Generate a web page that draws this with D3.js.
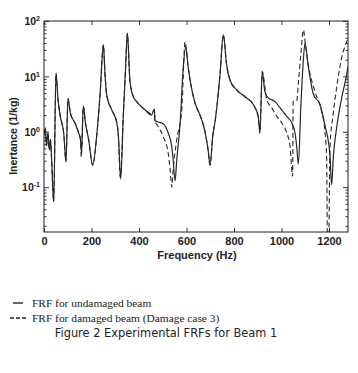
<!DOCTYPE html>
<html>
<head>
<meta charset="utf-8">
<script src="https://cdn.jsdelivr.net/npm/d3@7"></script>
<style>
  html, body { margin: 0; padding: 0; background: #fff; }
  svg { display: block; }
  .axis text { font-family: 'Liberation Sans', Arial, sans-serif; font-weight: bold; fill: #222; }
  .axis line { stroke: #333; }
</style>
</head>
<body>
<svg id="chart" width="358" height="373"></svg>
<script>
// frequencies (Hz) and inertance (1/kg)
var solidFreq = [0, 5.5, 10.5, 16.8, 22.3, 27.4, 31.6, 40.8, 50.5, 59, 68.6, 83, 92.6, 101, 110.7, 131.8, 146, 153.7, 158,
    165.5, 174, 188, 205, 223, 236, 250, 257, 264, 285, 306, 313, 323, 334, 343, 351, 362, 376, 390, 425, 453, 465, 467,
    481, 502, 523, 538, 544, 552, 559, 573, 587, 597, 606, 615, 636, 657, 678, 691, 699, 711, 720, 741, 755, 769, 783,
    811, 846, 881, 902, 909, 919, 930, 944, 973, 994, 1022, 1043, 1057, 1064, 1071, 1082, 1092, 1099, 1113, 1134, 1162,
    1183, 1204, 1211, 1219, 1232, 1253, 1274, 1280];
var solidVal = [0.88, 1.18, 0.56, 0.96, 0.47, 0.72, 0.35, 0.055, 11.4, 3.8, 1.9, 0.95, 0.29, 4.0, 2.2, 1.4, 0.95, 0.72, 0.41,
    2.9, 1.5, 0.72, 0.25, 0.95, 4.6, 37, 10.6, 4.6, 2.5, 1.5, 0.88, 0.14, 2.0, 13, 60, 8.1, 4.3, 3.5, 2.5, 2.0, 2.6, 1.6,
    1.5, 1.4, 0.95, 0.54, 0.31, 0.13, 0.31, 1.4, 16, 34, 16, 8.6, 3.3, 2.0, 1.0, 0.47, 0.25, 0.88, 1.5, 10.6, 56, 16, 8.6,
    5.7, 4.3, 3.1, 1.9, 0.95, 12.2, 5.3, 4.1, 3.5, 2.7, 1.9, 1.45, 0.96, 0.54, 0.26, 3.3, 19.8, 40, 15, 4.8, 3.1,
    1.3, 0.39, 0.11, 0.39, 1.17, 4.0, 10.6, 15];

var dashFreq = [0, 5.5, 10.5, 16.8, 22.3, 27.4, 31.6, 40.8, 50.5, 59, 68.6, 83, 92.6, 101, 110.7, 131.8, 146, 153.7, 157,
    165.5, 174, 188, 205, 223, 236, 250, 257, 264, 285, 306, 313, 321, 334, 343, 351, 362, 376, 390, 425, 453, 465, 467,
    481, 502, 523, 531, 538, 544, 559, 580, 594, 606, 615, 636, 657, 678, 691, 699, 711, 720, 741, 755, 769, 783,
    811, 846, 881, 902, 909, 919, 938, 959, 980, 1001, 1022, 1036, 1047, 1049, 1064, 1071, 1082, 1092, 1101, 1113, 1141,
    1169, 1183, 1190, 1194, 1198, 1204, 1217, 1232, 1253, 1274, 1280];
var dashVal = [0.88, 1.18, 0.56, 0.96, 0.47, 0.72, 0.35, 0.055, 11.4, 3.8, 1.9, 0.95, 0.29, 4.0, 2.2, 1.4, 0.95, 0.72, 0.35,
    2.9, 1.5, 0.72, 0.25, 0.95, 4.6, 37, 10.6, 4.6, 2.5, 1.5, 0.88, 0.15, 2.0, 13, 60, 8.1, 4.3, 3.5, 2.5, 2.1, 2.5, 1.6,
    1.24, 0.82, 0.41, 0.21, 0.10, 0.21, 0.72, 2.5, 42, 16, 8.6, 3.3, 2.0, 1.0, 0.47, 0.25, 0.88, 1.5, 10.6, 56, 16, 8.6,
    5.7, 4.3, 3.1, 1.9, 0.95, 12.2, 3.8, 2.7, 1.9, 1.45, 0.96, 0.54, 0.157, 3.5, 3.6, 7.6, 26.5, 69, 37, 16, 5.3,
    2.3, 1.0, 0.34, 0.005, 0.005, 0.52, 2.0, 6.2, 21.5, 42, 49];

var xTicks = [0, 200, 400, 600, 800, 1000, 1200];
var yTicks = [0.1, 1, 10, 100];
var yExp = ['-1', '0', '1', '2'];
var legendLabels = ['FRF for undamaged beam', 'FRF for damaged beam (Damage case 3)'];
var caption = 'Figure 2 Experimental FRFs for Beam 1';

(function () {
    var svg = d3.select('#chart');
    var P = { left: 44, right: 348, top: 21, bottom: 232 };
    var ink = '#262626';

    var x = d3.scaleLinear().domain([0, 1280]).range([P.left, P.right]);
    var y = d3.scaleLog().domain([0.0155, 100]).range([P.bottom, P.top]);

    // minor log ticks (2..9 per decade) that fall inside the domain
    var minor = [];
    [0.01, 0.1, 1, 10].forEach(function (d) {
        for (var k = 2; k <= 9; k++) {
            var v = d * k;
            if (v >= 0.0155 && v <= 100) minor.push(v);
        }
    });

    svg.append('defs').append('clipPath').attr('id', 'plot-clip')
        .append('rect')
        .attr('x', P.left).attr('y', P.top)
        .attr('width', P.right - P.left).attr('height', P.bottom - P.top);

    // axes: ticks point inward on all four sides
    var gL = svg.append('g').attr('class', 'axis').attr('transform', 'translate(' + P.left + ',0)')
        .call(d3.axisLeft(y).tickValues(yTicks).tickSize(-5).tickPadding(4).tickFormat(''));
    gL.selectAll('.tick text').each(function (d, i) {
        var t = d3.select(this).attr('font-size', 10.5).attr('dy', '0.35em');
        t.append('tspan').text('10');
        t.append('tspan').attr('font-size', 7).attr('dy', '-0.55em').text(yExp[i]);
    });
    svg.append('g').attr('class', 'axis').attr('transform', 'translate(' + P.left + ',0)')
        .call(d3.axisLeft(y).tickValues(minor).tickSize(-2.5).tickFormat(''));
    svg.append('g').attr('class', 'axis').attr('transform', 'translate(' + P.right + ',0)')
        .call(d3.axisRight(y).tickValues(yTicks).tickSize(-5).tickFormat(''));
    svg.append('g').attr('class', 'axis').attr('transform', 'translate(' + P.right + ',0)')
        .call(d3.axisRight(y).tickValues(minor).tickSize(-2.5).tickFormat(''));

    svg.append('g').attr('class', 'axis').attr('transform', 'translate(0,' + P.bottom + ')')
        .call(d3.axisBottom(x).tickValues(xTicks).tickSize(-4).tickPadding(5).tickFormat(d3.format('d')))
        .selectAll('text').attr('font-size', 11);
    svg.append('g').attr('class', 'axis').attr('transform', 'translate(0,' + P.top + ')')
        .call(d3.axisTop(x).tickValues(xTicks).tickSize(-4).tickFormat(''));
    svg.selectAll('.axis .domain').remove();

    svg.append('rect')
        .attr('x', P.left).attr('y', P.top)
        .attr('width', P.right - P.left).attr('height', P.bottom - P.top)
        .attr('fill', 'none').attr('stroke', '#333').attr('stroke-width', 1.1);

    var line = d3.line()
        .curve(d3.curveMonotoneX)
        .x(function (d) { return x(d.f); })
        .y(function (d) { return y(d.v); });
    var solid = solidFreq.map(function (f, i) { return { f: f, v: solidVal[i] }; });
    var dashed = dashFreq.map(function (f, i) { return { f: f, v: dashVal[i] }; });

    var gLines = svg.append('g').attr('clip-path', 'url(#plot-clip)');
    gLines.append('path').datum(dashed)
        .attr('fill', 'none').attr('stroke', ink).attr('stroke-width', 1.1)
        .attr('stroke-dasharray', '5,3')
        .attr('d', line);
    gLines.append('path').datum(solid)
        .attr('fill', 'none').attr('stroke', ink).attr('stroke-width', 1.2)
        .attr('stroke-linejoin', 'round')
        .attr('d', line);

    // axis titles
    svg.append('text')
        .attr('x', 197).attr('y', 259)
        .attr('text-anchor', 'middle')
        .attr('font-family', "'Liberation Sans', Arial, sans-serif")
        .attr('font-weight', 'bold').attr('font-size', 11).attr('fill', '#222')
        .text('Frequency (Hz)');
    svg.append('text')
        .attr('transform', 'translate(17,136) rotate(-90)')
        .attr('text-anchor', 'middle')
        .attr('font-family', "'Liberation Sans', Arial, sans-serif")
        .attr('font-weight', 'bold').attr('font-size', 10.5).attr('fill', '#222')
        .text('Inertance (1/kg)');

    // legend under the plot
    var legY = [303, 318];
    legendLabels.forEach(function (lab, i) {
        svg.append('line')
            .attr('x1', i === 0 ? 13 : 10).attr('x2', i === 0 ? 23 : 28)
            .attr('y1', legY[i]).attr('y2', legY[i])
            .attr('stroke', ink).attr('stroke-width', 1.4)
            .attr('stroke-dasharray', i === 0 ? null : '4,2');
        svg.append('text')
            .attr('x', 32).attr('y', legY[i] + 3.5)
            .attr('font-family', "'Liberation Serif', 'Times New Roman', serif")
            .attr('font-size', 11.4).attr('fill', '#222')
            .text(lab);
    });

    svg.append('text')
        .attr('x', 166).attr('y', 337)
        .attr('text-anchor', 'middle')
        .attr('font-family', "'DejaVu Sans', sans-serif")
        .attr('font-size', 11.4).attr('fill', '#222')
        .text(caption);
})();
</script>
</body>
</html>
